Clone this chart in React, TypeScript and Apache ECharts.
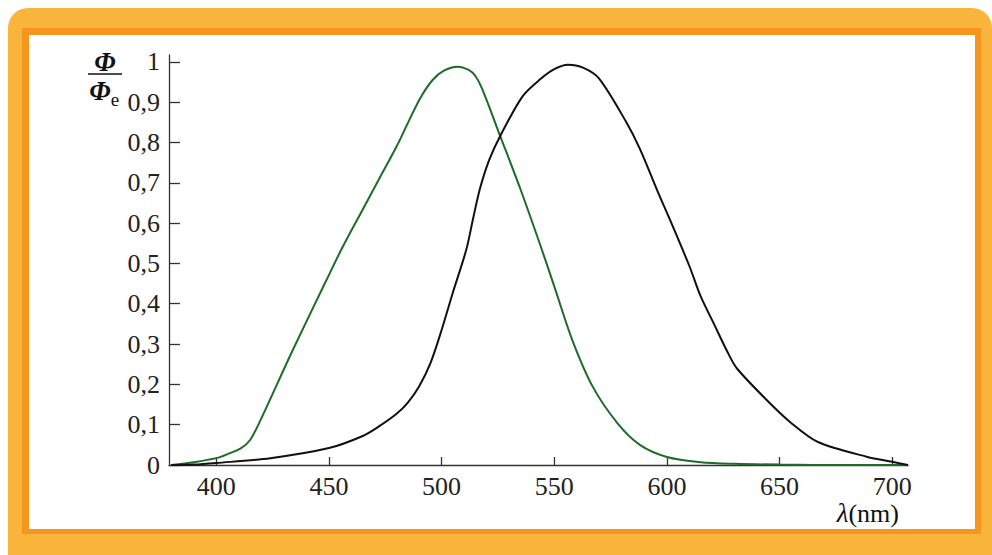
import React, { useEffect, useRef } from "react";
import * as echarts from "echarts";

const xTicks = [400, 450, 500, 550, 600, 650, 700];
const yTicks = [0, 0.1, 0.2, 0.3, 0.4, 0.5, 0.6, 0.7, 0.8, 0.9, 1];

// Scotopic (green) curve
const greenLambda = [380, 390, 400, 405, 411, 415, 419.5, 434, 449, 456, 465, 472, 480, 485, 490.5, 496, 501, 507, 512, 515, 518, 526, 535, 544, 550, 558, 567, 578, 588, 600, 615, 630, 650, 680, 707];
const greenValues = [0, 0.007, 0.017, 0.027, 0.042, 0.062, 0.11, 0.286, 0.46, 0.54, 0.634, 0.707, 0.79, 0.848, 0.91, 0.955, 0.978, 0.988, 0.98, 0.965, 0.933, 0.816, 0.684, 0.542, 0.443, 0.31, 0.195, 0.104, 0.05, 0.02, 0.007, 0.003, 0.001, 0, 0];

// Photopic (black) curve
const blackLambda = [380, 390, 400, 424, 450, 465, 472, 480, 485, 490, 495, 500, 505, 511, 514, 517, 521, 526, 536, 544, 550, 556, 563, 570, 582, 588, 596, 601, 610, 615, 620.6, 627, 631, 644.5, 655, 667, 689, 700, 707];
const blackValues = [0, 0.001, 0.005, 0.017, 0.042, 0.072, 0.095, 0.127, 0.155, 0.195, 0.252, 0.335, 0.428, 0.535, 0.612, 0.685, 0.755, 0.816, 0.915, 0.958, 0.982, 0.993, 0.985, 0.958, 0.85, 0.784, 0.677, 0.613, 0.493, 0.418, 0.353, 0.279, 0.24, 0.16, 0.105, 0.057, 0.02, 0.008, 0];

const FONT = "Liberation Serif";

export default function App() {
  const ref = useRef<HTMLDivElement>(null);
  useEffect(() => {
    if (!ref.current) return;
    const chart = echarts.init(ref.current, null, { renderer: "svg" });
    const green = greenLambda.map((l, i) => [l, greenValues[i]]);
    const black = blackLambda.map((l, i) => [l, blackValues[i]]);
    chart.setOption({
      animation: false,
      backgroundColor: "#ffffff",
      grid: { left: 169, right: 84, top: 55, bottom: 90, containLabel: false },
      xAxis: {
        type: "value",
        min: 379,
        max: 707,
        axisLine: { show: true, lineStyle: { color: "#333", width: 1.3 } },
        axisTick: { show: true, inside: true, length: 8, customValues: xTicks, lineStyle: { color: "#333", width: 1.3 } },
        axisLabel: {
          customValues: xTicks,
          margin: 9,
          color: "#222",
          fontFamily: FONT,
          fontSize: 26,
          lineHeight: 24,
        },
        splitLine: { show: false },
      },
      yAxis: {
        type: "value",
        min: 0,
        max: 1.017,
        axisLine: { show: true, lineStyle: { color: "#333", width: 1.3 } },
        axisTick: { show: true, inside: true, length: 11, customValues: yTicks, lineStyle: { color: "#333", width: 1.3 } },
        axisLabel: {
          customValues: yTicks,
          margin: 9,
          color: "#222",
          fontFamily: FONT,
          fontSize: 26,
          formatter: (v: number) => (v === 0 ? "0" : v === 1 ? "1" : v.toFixed(1).replace(".", ",")),
        },
        splitLine: { show: false },
      },
      series: [
        {
          type: "line",
          data: green,
          showSymbol: false,
          smooth: 0.3,
          lineStyle: { color: "#1f6b2a", width: 2 },
          z: 3,
        },
        {
          type: "line",
          data: black,
          showSymbol: false,
          smooth: 0.3,
          lineStyle: { color: "#111111", width: 2 },
          z: 3,
        },
      ],
      graphic: [
        {
          type: "rect",
          z: -20,
          silent: true,
          shape: { x: 8, y: 8, width: 984, height: 580, r: 20 },
          style: { fill: "#F9B43C" },
        },
        {
          type: "rect",
          z: -19,
          silent: true,
          shape: { x: 22, y: 28, width: 959, height: 506 },
          style: { fill: "#F7961F" },
        },
        {
          type: "rect",
          z: -18,
          silent: true,
          shape: { x: 29, y: 35, width: 946, height: 494 },
          style: { fill: "#ffffff" },
        },
        {
          type: "text",
          z: 10,
          x: 105,
          y: 62,
          style: {
            text: "Φ",
            font: `italic bold 27px "${FONT}"`,
            fill: "#111",
            align: "center",
            verticalAlign: "middle",
          },
        },
        {
          type: "line",
          z: 10,
          shape: { x1: 88, y1: 74, x2: 122, y2: 74 },
          style: { stroke: "#111", lineWidth: 1.5 },
        },
        {
          type: "text",
          z: 10,
          x: 100,
          y: 91,
          style: {
            text: "Φ",
            font: `italic bold 27px "${FONT}"`,
            fill: "#111",
            align: "center",
            verticalAlign: "middle",
          },
        },
        {
          type: "text",
          z: 10,
          x: 115,
          y: 99,
          style: {
            text: "e",
            font: `19px "${FONT}"`,
            fill: "#111",
            align: "center",
            verticalAlign: "middle",
          },
        },
        {
          type: "text",
          z: 10,
          x: 899,
          y: 513,
          style: {
            text: "{a|λ}{b|(nm)}",
            align: "right",
            verticalAlign: "middle",
            rich: {
              a: { font: `italic 27px "${FONT}"`, fill: "#111", lineHeight: 24 },
              b: { font: `26px "${FONT}"`, fill: "#111", lineHeight: 24 },
            },
          },
        },
      ],
    });
    return () => chart.dispose();
  }, []);
  return (
    <div
      ref={ref}
      style={{ position: "absolute", left: 0, top: 0, width: 992, height: 555 }}
    />
  );
}
